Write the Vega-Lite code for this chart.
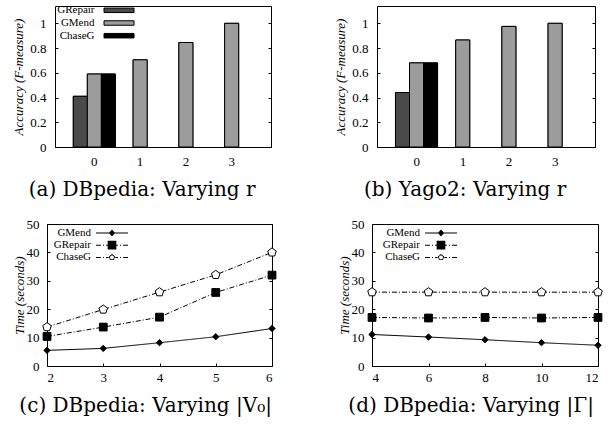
{
  "$schema": "https://vega.github.io/schema/vega-lite/v6.json",
  "padding": {"left": 12, "top": 4, "right": 0, "bottom": 0},
  "background": "white",
  "columns": 1,
  "align": "none",
  "spacing": {"row": 16, "column": 0},
  "datasets": {
    "dbp_r": [
      {"r": "0", "method": "GRepair", "acc": 0.41},
      {"r": "0", "method": "GMend", "acc": 0.59},
      {"r": "0", "method": "ChaseG", "acc": 0.59},
      {"r": "1", "method": "GMend", "acc": 0.705},
      {"r": "2", "method": "GMend", "acc": 0.845},
      {"r": "3", "method": "GMend", "acc": 1.0}
    ],
    "yago_r": [
      {"r": "0", "method": "GRepair", "acc": 0.44},
      {"r": "0", "method": "GMend", "acc": 0.68},
      {"r": "0", "method": "ChaseG", "acc": 0.68},
      {"r": "1", "method": "GMend", "acc": 0.865},
      {"r": "2", "method": "GMend", "acc": 0.975},
      {"r": "3", "method": "GMend", "acc": 1.0}
    ],
    "dbp_v": [
      {"v": 2, "series": "GMend", "time": 5.5},
      {"v": 3, "series": "GMend", "time": 6.2},
      {"v": 4, "series": "GMend", "time": 8.2},
      {"v": 5, "series": "GMend", "time": 10.3},
      {"v": 6, "series": "GMend", "time": 13.2},
      {"v": 2, "series": "GRepair", "time": 10.4},
      {"v": 3, "series": "GRepair", "time": 13.7},
      {"v": 4, "series": "GRepair", "time": 17.2},
      {"v": 5, "series": "GRepair", "time": 25.9},
      {"v": 6, "series": "GRepair", "time": 32.0},
      {"v": 2, "series": "ChaseG", "time": 13.7},
      {"v": 3, "series": "ChaseG", "time": 19.9},
      {"v": 4, "series": "ChaseG", "time": 26.0},
      {"v": 5, "series": "ChaseG", "time": 32.1},
      {"v": 6, "series": "ChaseG", "time": 40.0}
    ],
    "dbp_g": [
      {"g": 4, "series": "GMend", "time": 11.1},
      {"g": 6, "series": "GMend", "time": 10.2},
      {"g": 8, "series": "GMend", "time": 9.25},
      {"g": 10, "series": "GMend", "time": 8.2},
      {"g": 12, "series": "GMend", "time": 7.3},
      {"g": 4, "series": "GRepair", "time": 17.1},
      {"g": 6, "series": "GRepair", "time": 16.9},
      {"g": 8, "series": "GRepair", "time": 17.1},
      {"g": 10, "series": "GRepair", "time": 16.9},
      {"g": 12, "series": "GRepair", "time": 17.1},
      {"g": 4, "series": "ChaseG", "time": 26.0},
      {"g": 6, "series": "ChaseG", "time": 26.0},
      {"g": 8, "series": "ChaseG", "time": 26.0},
      {"g": 10, "series": "ChaseG", "time": 26.0},
      {"g": 12, "series": "ChaseG", "time": 26.0}
    ]
  },
  "config": {
    "font": "Liberation Serif",
    "view": {"stroke": "black", "strokeWidth": 1},
    "axis": {
      "grid": false,
      "domain": false,
      "domainColor": "black",
      "domainWidth": 1,
      "tickColor": "black",
      "tickSize": -3,
      "labelFont": "Liberation Serif",
      "labelFontSize": 13,
      "labelColor": "black",
      "titleFont": "Liberation Serif",
      "titleFontSize": 13,
      "titleFontStyle": "italic",
      "titleFontWeight": "normal",
      "titleColor": "black"
    },
    "legend": {
      "orient": "none",
      "title": null,
      "labelFont": "Liberation Serif",
      "labelFontSize": 11,
      "labelColor": "black",
      "labelAlign": "right",
      "padding": 0
    },
    "title": {
      "orient": "bottom",
      "anchor": "middle",
      "frame": "bounds",
      "font": "DejaVu Serif",
      "fontSize": 20,
      "fontWeight": "normal",
      "color": "black",
      "offset": 12
    }
  },
  "concat": [
    {
      "hconcat": [
        {
          "width": 224,
          "height": 141,
          "view": {"stroke": null},
          "title": "(a) DBpedia: Varying r",
          "data": {"name": "dbp_r"},
          "encoding": {
            "xOffset": {"field": "method", "scale": {"domain": ["GRepair", "GMend", "ChaseG"]}},
            "fill": {"field": "method", "type": "nominal", "scale": {"domain": ["GRepair", "GMend", "ChaseG"], "range": ["#4a4a4a", "#9c9c9c", "#000000"]},
              "legend": {"legendX": 66.5, "legendY": -1.2, "symbolType": "M-3,-0.45H3V0.45H-3Z", "symbolSize": 100, "symbolStrokeColor": "black", "symbolStrokeWidth": 1, "labelOffset": -30, "rowPadding": 0.7}}
          },
          "layer": [
            {"mark": {"type": "bar", "stroke": "black", "strokeWidth": 1},
             "encoding": {
               "x": {"field": "r", "type": "ordinal", "scale": {"range": [8, 224], "paddingInner": 0.08, "paddingOuter": 0.4}, "axis": {"title": null, "labelAngle": 0, "ticks": false, "labelPadding": 8, "domain": true}},
               "y": {"field": "acc", "type": "quantitative", "scale": {"domain": [0, 1.14], "nice": false}, "axis": {"values": [0, 0.2, 0.4, 0.6, 0.8, 1], "format": "~g", "title": "Accuracy (F-measure)", "labelPadding": 12, "titlePadding": 4, "offset": -8, "domain": true}}}},
            {"mark": {"type": "bar", "stroke": "black", "strokeWidth": 1},
             "encoding": {
               "x": {"field": "r", "type": "ordinal", "scale": {"range": [8, 224], "paddingInner": 0.08, "paddingOuter": 0.4}, "axis": {"orient": "top", "labels": false, "ticks": false, "title": null, "domain": true}},
               "y": {"field": "acc", "type": "quantitative", "scale": {"domain": [0, 1.14], "nice": false}, "axis": {"orient": "right", "values": [0, 0.2, 0.4, 0.6, 0.8, 1], "labels": false, "title": null, "domain": true}}}}
          ],
          "resolve": {"axis": {"x": "independent", "y": "independent"}}
        },
        {
          "width": 218,
          "height": 141,
          "title": "(b) Yago2: Varying r",
          "data": {"name": "yago_r"},
          "encoding": {
            "x": {"field": "r", "type": "ordinal", "scale": {"paddingInner": 0.08, "paddingOuter": 0.4}, "axis": {"title": null, "labelAngle": 0, "ticks": false, "labelPadding": 8}},
            "xOffset": {"field": "method", "scale": {"domain": ["GRepair", "GMend", "ChaseG"]}},
            "fill": {"field": "method", "type": "nominal", "scale": {"domain": ["GRepair", "GMend", "ChaseG"], "range": ["#4a4a4a", "#9c9c9c", "#000000"]},
              "legend": {"legendX": 59, "legendY": -1.2, "symbolType": "M-3,-0.45H3V0.45H-3Z", "symbolSize": 100, "symbolStrokeColor": "black", "symbolStrokeWidth": 1, "labelOffset": -27, "rowPadding": 0.7}}
          },
          "layer": [
            {"mark": {"type": "bar", "stroke": "black", "strokeWidth": 1},
             "encoding": {"y": {"field": "acc", "type": "quantitative", "scale": {"domain": [0, 1.14], "nice": false}, "axis": {"values": [0, 0.2, 0.4, 0.6, 0.8, 1], "format": "~g", "title": "Accuracy (F-measure)", "labelPadding": 12, "titlePadding": 4}}}},
            {"mark": {"type": "bar", "stroke": "black", "strokeWidth": 1},
             "encoding": {"y": {"field": "acc", "type": "quantitative", "scale": {"domain": [0, 1.14], "nice": false}, "axis": {"orient": "right", "values": [0, 0.2, 0.4, 0.6, 0.8, 1], "labels": false, "title": null}}}}
          ],
          "resolve": {"axis": {"y": "independent"}}
        }
      ],
      "spacing": 62
    },
    {
      "hconcat": [
        {
          "width": 225,
          "height": 142,
          "title": "(c) DBpedia: Varying |V₀|",
          "data": {"name": "dbp_v"},
          "encoding": {
            "x": {"field": "v", "type": "quantitative", "scale": {"domain": [2, 6], "nice": false}, "axis": {"values": [2, 3, 4, 5, 6], "title": null, "labelPadding": 8}}
          },
          "layer": [
            {"mark": {"type": "line", "color": "black", "strokeWidth": 1},
             "encoding": {
               "y": {"field": "time", "type": "quantitative", "scale": {"domain": [0, 50], "nice": false}, "axis": {"values": [0, 10, 20, 30, 40, 50], "title": "Time (seconds)", "labelPadding": 11, "titlePadding": 0}},
               "strokeDash": {"field": "series", "type": "nominal", "scale": {"domain": ["GMend", "GRepair", "ChaseG"], "range": [[1, 0], [5, 2, 1, 2], [5, 2, 1, 2]]}, "legend": null}
             }},
            {"mark": {"type": "point", "filled": true, "stroke": "black", "strokeWidth": 1, "opacity": 1},
             "encoding": {
               "y": {"field": "time", "type": "quantitative", "scale": {"domain": [0, 50], "nice": false}, "axis": {"orient": "right", "values": [0, 10, 20, 30, 40, 50], "labels": false, "title": null}},
               "shape": {"field": "series", "type": "nominal", "scale": {"domain": ["GMend", "GRepair", "ChaseG"], "range": ["diamond", "square", "M0,-1L0.951,-0.309L0.588,0.809L-0.588,0.809L-0.951,-0.309Z"]}, "legend": null},
               "size": {"field": "series", "type": "nominal", "scale": {"domain": ["GMend", "GRepair", "ChaseG"], "range": [40, 81, 49]}, "legend": null},
               "fill": {"condition": {"test": "datum.series === 'ChaseG'", "value": "white"}, "value": "black"}
             }},
            {"transform": [{"filter": "false"}],
             "mark": {"type": "point", "filled": true, "fill": "black", "strokeWidth": 0, "opacity": 1},
             "encoding": {
               "y": {"field": "time", "type": "quantitative", "scale": {"domain": [0, 50], "nice": false}, "axis": null},
               "shape": {"field": "series", "type": "nominal", "scale": {"domain": ["GMend", "GRepair", "ChaseG"], "range": [
                 "M-2.91,-0.09H2.91V0.09H-2.91ZM0,-0.64L0.58,0L0,0.64L-0.58,0Z",
                 "M-2.91,-0.09H-2.01V0.09H-2.91ZM-1.63,-0.09H-1.45V0.09H-1.63ZM-1.08,-0.09H-0.79V0.09H-1.08ZM0.79,-0.09H1.08V0.09H0.79ZM1.45,-0.09H1.63V0.09H1.45ZM2.01,-0.09H2.91V0.09H2.01ZM-0.79,-0.79H0.79V0.79H-0.79Z",
                 "M-2.91,-0.09H-2.01V0.09H-2.91ZM-1.63,-0.09H-1.45V0.09H-1.63ZM-1.08,-0.09H-0.6V0.09H-1.08ZM0.6,-0.09H1.08V0.09H0.6ZM1.45,-0.09H1.63V0.09H1.45ZM2.01,-0.09H2.91V0.09H2.01ZM0,-0.6L0.571,-0.185L0.353,0.485L-0.353,0.485L-0.571,-0.185ZM0,-0.41L-0.39,-0.127L-0.241,0.332L0.241,0.332L0.39,-0.127Z"
               ]},
                 "legend": {"legendX": 59.5, "legendY": 3.5, "symbolSize": 121, "symbolFillColor": "black", "symbolStrokeWidth": 0, "labelOffset": -26.5, "rowPadding": 0.2}}
             }}
          ],
          "resolve": {"axis": {"y": "independent"}, "scale": {"shape": "independent"}}
        },
        {
          "width": 226,
          "height": 142,
          "title": "(d) DBpedia: Varying |Γ|",
          "data": {"name": "dbp_g"},
          "encoding": {
            "x": {"field": "g", "type": "quantitative", "scale": {"domain": [4, 12], "nice": false}, "axis": {"values": [4, 6, 8, 10, 12], "title": null, "labelPadding": 8}}
          },
          "layer": [
            {"mark": {"type": "line", "color": "black", "strokeWidth": 1},
             "encoding": {
               "y": {"field": "time", "type": "quantitative", "scale": {"domain": [0, 50], "nice": false}, "axis": {"values": [0, 10, 20, 30, 40, 50], "title": "Time (seconds)", "labelPadding": 11, "titlePadding": 0}},
               "strokeDash": {"field": "series", "type": "nominal", "scale": {"domain": ["GMend", "GRepair", "ChaseG"], "range": [[1, 0], [5, 2, 1, 2], [5, 2, 1, 2]]}, "legend": null}
             }},
            {"mark": {"type": "point", "filled": true, "stroke": "black", "strokeWidth": 1, "opacity": 1},
             "encoding": {
               "y": {"field": "time", "type": "quantitative", "scale": {"domain": [0, 50], "nice": false}, "axis": {"orient": "right", "values": [0, 10, 20, 30, 40, 50], "labels": false, "title": null}},
               "shape": {"field": "series", "type": "nominal", "scale": {"domain": ["GMend", "GRepair", "ChaseG"], "range": ["diamond", "square", "M0,-1L0.951,-0.309L0.588,0.809L-0.588,0.809L-0.951,-0.309Z"]}, "legend": null},
               "size": {"field": "series", "type": "nominal", "scale": {"domain": ["GMend", "GRepair", "ChaseG"], "range": [40, 81, 49]}, "legend": null},
               "fill": {"condition": {"test": "datum.series === 'ChaseG'", "value": "white"}, "value": "black"}
             }},
            {"transform": [{"filter": "false"}],
             "mark": {"type": "point", "filled": true, "fill": "black", "strokeWidth": 0, "opacity": 1},
             "encoding": {
               "y": {"field": "time", "type": "quantitative", "scale": {"domain": [0, 50], "nice": false}, "axis": null},
               "shape": {"field": "series", "type": "nominal", "scale": {"domain": ["GMend", "GRepair", "ChaseG"], "range": [
                 "M-2.91,-0.09H2.91V0.09H-2.91ZM0,-0.64L0.58,0L0,0.64L-0.58,0Z",
                 "M-2.91,-0.09H-2.01V0.09H-2.91ZM-1.63,-0.09H-1.45V0.09H-1.63ZM-1.08,-0.09H-0.79V0.09H-1.08ZM0.79,-0.09H1.08V0.09H0.79ZM1.45,-0.09H1.63V0.09H1.45ZM2.01,-0.09H2.91V0.09H2.01ZM-0.79,-0.79H0.79V0.79H-0.79Z",
                 "M-2.91,-0.09H-2.01V0.09H-2.91ZM-1.63,-0.09H-1.45V0.09H-1.63ZM-1.08,-0.09H-0.6V0.09H-1.08ZM0.6,-0.09H1.08V0.09H0.6ZM1.45,-0.09H1.63V0.09H1.45ZM2.01,-0.09H2.91V0.09H2.01ZM0,-0.6L0.571,-0.185L0.353,0.485L-0.353,0.485L-0.571,-0.185ZM0,-0.41L-0.39,-0.127L-0.241,0.332L0.241,0.332L0.39,-0.127Z"
               ]},
                 "legend": {"legendX": 63.5, "legendY": 3.5, "symbolSize": 121, "symbolFillColor": "black", "symbolStrokeWidth": 0, "labelOffset": -26.5, "rowPadding": 0.2}}
             }}
          ],
          "resolve": {"axis": {"y": "independent"}, "scale": {"shape": "independent"}}
        }
      ],
      "spacing": 58
    }
  ]
}
